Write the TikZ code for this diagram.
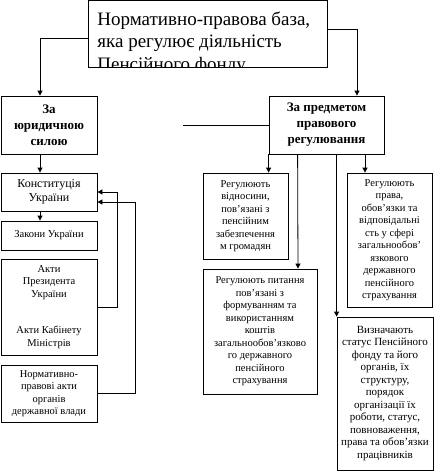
\documentclass[tikz,border=0pt]{standalone}
\usepackage{fontspec}
\setmainfont{Liberation Serif}
\usetikzlibrary{arrows.meta}
\tikzset{
    box/.style={draw, rectangle, inner sep=1pt, align=center, font=\fontsize{10.5}{12.5}\selectfont},
    headbox/.style={box, font=\bfseries\fontsize{13}{16}\selectfont},
    arr/.style={-{Triangle[width=5pt,length=5pt]}}
}

\begin{document}
\begin{tikzpicture}[x=1pt, y=-1pt, line width=0.8pt]
  \useasboundingbox (0,0) rectangle (443,471);
  \node (top) [draw, minimum width=239pt, minimum height=67pt] at (207.5,33.5) {};
  \begin{scope}
    \clip (88,0) rectangle (327,67);
    \node (title) [anchor=base west, inner sep=0, align=left, font=\fontsize{19}{22.5}\selectfont] at (97,70) {Нормативно-правова база,\\яка регулює діяльність\\Пенсійного фонду};
  \end{scope}

  \node (law) [headbox, minimum width=96pt, minimum height=58pt] at (49,125) {За\\юридичною\\силою};
  \node (subj) [headbox, minimum width=115pt, minimum height=58pt] at (326.5,125) {За предметом\\правового\\регулювання};
  \coordinate (stub) at (183,125);

  % left column
  \node (const) [box, minimum width=96pt, minimum height=38pt, font=\fontsize{12}{13.5}\selectfont] at (49,192) {Конституція\\України};
  \node (zak) [box, minimum width=96pt, minimum height=29pt] at (49,235.5) {Закони України};
  \node (akty) [box, minimum width=96pt, minimum height=96pt] at (49,307) {Акти\\Президента\\України\\[24pt]Акти Кабінету\\Міністрів};
  \node (norm) [box, minimum width=96pt, minimum height=57pt] at (49,393.5) {Нормативно-\\правові акти\\органів\\державної влади};

  % right column
  \node (vidn) [box, minimum width=85pt, minimum height=86pt] at (245.5,216) {Регулюють\\відносини,\\пов’язані з\\пенсійним\\забезпечення\\м громадян};
  \node (pyt) [box, minimum width=114pt, minimum height=125pt] at (260,331.5) {Регулюють питання\\пов’язані з\\формуванням та\\використанням\\коштів\\загальнообов’язково\\го державного\\пенсійного\\страхування};
  \node (prava) [box, minimum width=85pt, minimum height=134pt] at (389.5,240) {Регулюють\\права,\\обов’язки та\\відповідальні\\сть у сфері\\загальнообов’\\язкового\\державного\\пенсійного\\страхування};
  \node (status) [box, minimum width=96pt, minimum height=153pt, font=\fontsize{11}{12.5}\selectfont] at (385,393.5) {Визначають\\статус Пенсійного\\фонду та його\\органів, їх\\структуру,\\порядок\\організації їх\\роботи, статус,\\повноваження,\\права та обов’язки\\працівників};

  \draw[arr] ([yshift=-4.5pt]top.west) -| ([xshift=-9pt]law.north);
  \draw[arr] ([yshift=4.5pt]top.east) -| ([xshift=30.5pt]subj.north);
  \draw (stub) -- (subj.west);

  \draw[arr] ([xshift=-9pt]law.south) -- ([xshift=-9pt]const.north);
  \draw[arr] ([xshift=-9pt]const.south) -- ([xshift=-9pt]zak.north);
  \draw[arr] (akty.east) -- ++(20,0) |- (const.east);
  \draw[arr] (norm.east) -- ++(38,0) |- ([yshift=-10pt]const.east);

  \draw[arr] (subj.south west) -- (subj.south west |- vidn.north);
  \draw[arr] ([xshift=29pt]subj.south west) -- ([xshift=38pt]pyt.north);
  \draw[arr] (status.north west |- subj.south) -- (status.north west);
  \draw[arr] ([xshift=38.5pt]subj.south) -- ([xshift=-24.5pt]prava.north);
\end{tikzpicture}
\end{document}
